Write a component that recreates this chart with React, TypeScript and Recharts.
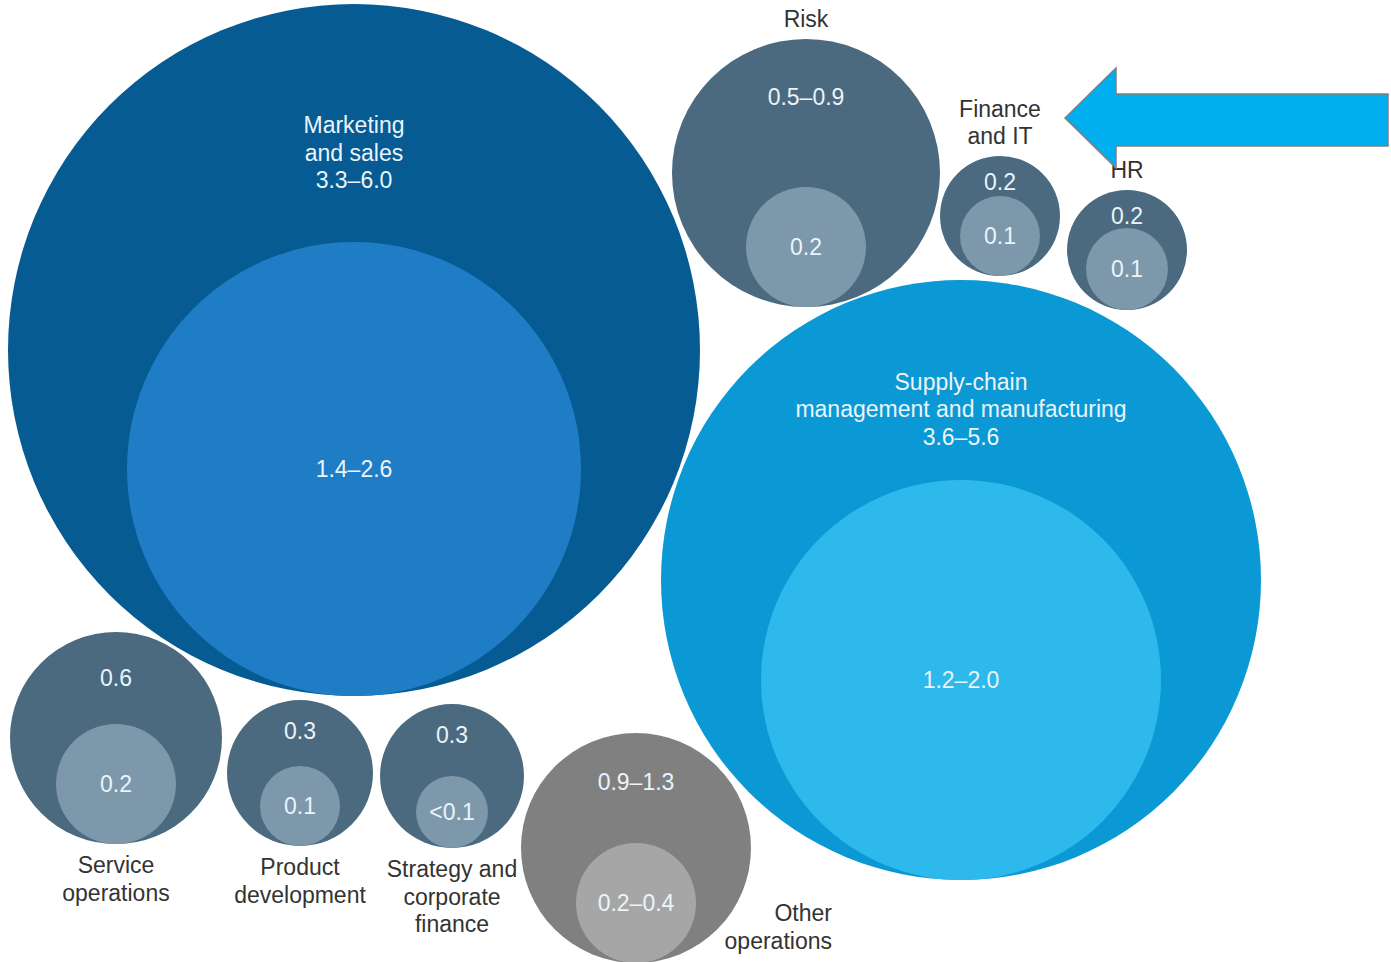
import React from 'react';
import { ScatterChart, Scatter, XAxis, YAxis, ZAxis } from 'recharts';

// functions, in the order they are drawn
const names = [
  'Marketing\nand sales',
  'Supply-chain\nmanagement and manufacturing',
  'Risk',
  'Finance\nand IT',
  'HR',
  'Service\noperations',
  'Product\ndevelopment',
  'Strategy and\ncorporate\nfinance',
  'Other\noperations',
];
const totalValues = ['3.3–6.0', '3.6–5.6', '0.5–0.9', '0.2', '0.2', '0.6', '0.3', '0.3', '0.9–1.3'];
const partValues = ['1.4–2.6', '1.2–2.0', '0.2', '0.1', '0.1', '0.2', '0.1', '<0.1', '0.2–0.4'];
// bubble sizes (radius, chart units)
const totalSize = [346, 300, 134, 60, 60, 106, 73, 72, 115];
const partSize = [227, 200, 60, 40, 41, 60, 40, 36, 60];
// packed layout of the bubbles
const bubbleX = [354, 961, 806, 1000, 1127, 116, 300, 452, 636];
const bubbleY = [350, 580, 173, 216, 250, 738, 773, 776, 848];
const tone = ['marketing', 'supply', 'slate', 'slate', 'slate', 'slate', 'slate', 'slate', 'gray'];
const namePlace = ['inside', 'inside', 'above', 'above', 'above', 'below', 'below', 'below', 'right'];

const W = 1391;
const H = 962;
const FONT = '"Liberation Sans", Arial, sans-serif';
const FS = 23;
const LH = 27.5;
const INNER_TEXT = '#eaf4fa';
const OUTER_TEXT = '#333333';

const palette: Record<string, [string, string]> = {
  marketing: ['#065b92', '#1f7dc5'],
  supply: ['#0a99d4', '#2db9ec'],
  slate: ['#4b6a80', '#7e98ab'],
  gray: ['#808080', '#a6a6a6'],
};

const maxArea = Math.max(...totalSize) ** 2;

const outerData = names.map((name, i) => ({
  name,
  x: bubbleX[i],
  y: bubbleY[i],
  area: totalSize[i] ** 2,
  value: totalValues[i],
  tone: tone[i],
  place: namePlace[i],
}));

const innerData = names.map((name, i) => ({
  name,
  x: bubbleX[i],
  // inner bubble sits on the bottom of its outer bubble
  y: bubbleY[i] + totalSize[i] - partSize[i],
  area: partSize[i] ** 2,
  value: partValues[i],
  tone: tone[i],
}));

const radiusOf = (p: any) =>
  p.width != null ? p.width / 2 : Math.sqrt(Math.max(p.size || 0, 0) / Math.PI);

const Lines = ({ x, y, lines, color, anchor = 'middle' }: any) => (
  <text x={x} fontFamily={FONT} fontSize={FS} fill={color} textAnchor={anchor}>
    {lines.map((l: string, k: number) => (
      <tspan key={k} x={x} y={y + k * LH} dominantBaseline="central">
        {l}
      </tspan>
    ))}
  </text>
);

const OuterBubble = (props: any) => {
  const { cx, cy, payload } = props;
  const r = radiusOf(props);
  const top = cy - r;
  const bottom = cy + r;
  const nameLines = payload.name.split('\n');
  let inside: string[] = [payload.value];
  let label: React.ReactNode = null;
  if (payload.place === 'inside') {
    inside = [...nameLines, payload.value];
  } else if (payload.place === 'above') {
    const n = nameLines.length;
    label = <Lines x={cx} y={top - 20 - (n - 1) * LH} lines={nameLines} color={OUTER_TEXT} />;
  } else if (payload.place === 'below') {
    label = <Lines x={cx} y={bottom + 21} lines={nameLines} color={OUTER_TEXT} />;
  } else {
    label = <Lines x={cx + r + 81} y={cy + 65} lines={nameLines} color={OUTER_TEXT} anchor="end" />;
  }
  const blockMid = top + 0.43 * r;
  const firstY = blockMid - ((inside.length - 1) * LH) / 2;
  return (
    <g>
      <circle cx={cx} cy={cy} r={r} fill={palette[payload.tone][0]} />
      <Lines x={cx} y={firstY} lines={inside} color={INNER_TEXT} />
      {label}
    </g>
  );
};

const InnerBubble = (props: any) => {
  const { cx, cy, payload } = props;
  const r = radiusOf(props);
  return (
    <g>
      <circle cx={cx} cy={cy} r={r} fill={palette[payload.tone][1]} />
      <Lines x={cx} y={cy} lines={[payload.value]} color={INNER_TEXT} />
    </g>
  );
};

export default function App() {
  return (
    <div style={{ position: 'relative', width: W, height: H, background: '#fff' }}>
      <style>{'body{margin:0}'}</style>
      <ScatterChart width={W} height={H} margin={{ top: 0, right: 0, bottom: 0, left: 0 }}>
        <XAxis type="number" dataKey="x" domain={[0, W]} hide />
        <YAxis type="number" dataKey="y" domain={[0, H]} reversed hide />
        <ZAxis type="number" dataKey="area" domain={[0, maxArea]} range={[0, Math.PI * maxArea]} />
        <Scatter data={outerData} shape={OuterBubble} isAnimationActive={false} />
        <Scatter data={innerData} shape={InnerBubble} isAnimationActive={false} />
      </ScatterChart>
      <svg
        width={W}
        height={H}
        style={{ position: 'absolute', left: 0, top: 0, pointerEvents: 'none' }}
      >
        <polygon
          points="1065,118 1116,68 1116,94 1388,94 1388,146 1116,146 1116,168"
          fill="#00aeef"
          stroke="#7f7f7f"
          strokeWidth={1.5}
        />
      </svg>
    </div>
  );
}
